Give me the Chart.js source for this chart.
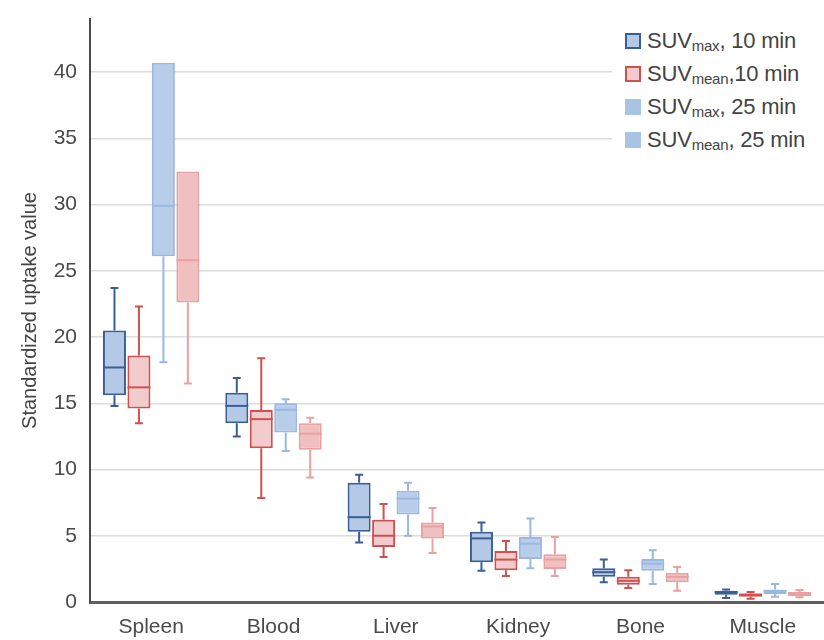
<!DOCTYPE html>
<html>
<head>
<meta charset="utf-8">
<script src="https://cdn.jsdelivr.net/npm/chart.js@4.4.1/dist/chart.umd.min.js"></script>
<style>
    body { margin: 0; background: #fff; font-family: "Liberation Sans", Arial, sans-serif; }
    .wrap { position: relative; width: 824px; height: 640px; }
    .legend { position: absolute; left: 612px; top: 24px; width: 212px; background: #fff; color: #444; }
    .legend div { height: 33px; line-height: 33px; font-size: 22px; white-space: nowrap; letter-spacing: -0.2px; }
    .legend span.sw { display: inline-block; width: 16px; height: 16px; box-sizing: border-box; margin: 0 6px 0 13px; vertical-align: -1px; }
    .legend sub { font-size: 15px; vertical-align: -3px; }
</style>
</head>
<body>
<div class="wrap">
    <canvas id="myChart" width="824" height="640"></canvas>
    <div class="legend">
        <div><span class="sw" style="background:#b4c9e6;border:2px solid #3a5f95"></span>SUV<sub>max</sub>, 10 min</div>
        <div><span class="sw" style="background:#f2cccc;border:2px solid #d05050"></span>SUV<sub>mean</sub>,10 min</div>
        <div><span class="sw" style="background:#a9c3e4"></span>SUV<sub>max</sub>, 25 min</div>
        <div><span class="sw" style="background:#a9c3e4"></span>SUV<sub>mean</sub>, 25 min</div>
    </div>
</div>
<script>
// categories + box stats per organ: [min, q1, median, q3, max]
const organs = ['Spleen', 'Blood', 'Liver', 'Kidney', 'Bone', 'Muscle'];

const suvMax10 = [[14.8, 15.6, 17.7, 20.5, 23.7], [12.5, 13.5, 14.8, 15.8, 16.9], [4.5, 5.3, 6.4, 9.0, 9.6],
    [2.35, 3.0, 4.8, 5.3, 6.0], [1.5, 1.9, 2.25, 2.55, 3.2], [0.3, 0.55, 0.75, 0.85, 0.95]];
const suvMean10 = [[13.5, 14.6, 16.2, 18.6, 22.3], [7.85, 11.6, 13.8, 14.5, 18.4], [3.4, 4.15, 5.0, 6.2, 7.4],
    [1.96, 2.4, 3.2, 3.85, 4.6], [1.05, 1.3, 1.6, 1.9, 2.4], [0.25, 0.4, 0.55, 0.65, 0.75]];
const suvMax25 = [[18.1, 26.1, 29.9, 40.7, 40.7], [11.4, 12.8, 14.5, 15.0, 15.3], [5.0, 6.6, 7.8, 8.4, 9.0],
    [2.55, 3.25, 4.4, 4.9, 6.3], [1.35, 2.35, 2.9, 3.25, 3.9], [0.4, 0.6, 0.8, 0.95, 1.35]];
const suvMean25 = [[16.5, 22.6, 25.8, 32.5, 32.5], [9.4, 11.5, 12.7, 13.5, 13.9], [3.7, 4.8, 5.7, 6.0, 7.1],
    [1.96, 2.5, 3.2, 3.6, 4.9], [0.85, 1.5, 1.9, 2.2, 2.65], [0.35, 0.45, 0.6, 0.75, 0.9]];

const yTicks = [0, 5, 10, 15, 20, 25, 30, 35, 40];

function boxSet(label, stats, fill, line, lw) {
    return {
        label: label,
        data: stats.map(s => [s[1], s[3]]),
        stats: stats,
        backgroundColor: fill,
        borderColor: line,
        borderWidth: 2,
        borderSkipped: false,
        whiskerWidth: lw,
        barPercentage: 0.94,
        categoryPercentage: 0.8
    };
}

// whiskers + medians
const boxPlugin = {
    id: 'boxPlugin',
    afterDatasetsDraw(chart) {
        const ctx = chart.ctx;
        const y = chart.scales.y;
        chart.data.datasets.forEach((ds, i) => {
            const meta = chart.getDatasetMeta(i);
            ctx.save();
            ctx.strokeStyle = ds.borderColor;
            meta.data.forEach((bar, j) => {
                const s = ds.stats[j];
                const x = bar.x;
                const half = bar.width / 2;
                ctx.lineWidth = ds.whiskerWidth;
                ctx.beginPath();
                if (s[4] > s[3]) {
                    ctx.moveTo(x, y.getPixelForValue(s[3]));
                    ctx.lineTo(x, y.getPixelForValue(s[4]));
                    ctx.moveTo(x - 4, y.getPixelForValue(s[4]));
                    ctx.lineTo(x + 4, y.getPixelForValue(s[4]));
                }
                if (s[0] < s[1]) {
                    ctx.moveTo(x, y.getPixelForValue(s[1]));
                    ctx.lineTo(x, y.getPixelForValue(s[0]));
                    ctx.moveTo(x - 4, y.getPixelForValue(s[0]));
                    ctx.lineTo(x + 4, y.getPixelForValue(s[0]));
                }
                ctx.stroke();
                ctx.lineWidth = 2;
                ctx.beginPath();
                ctx.moveTo(x - half, y.getPixelForValue(s[2]));
                ctx.lineTo(x + half, y.getPixelForValue(s[2]));
                ctx.stroke();
            });
            ctx.restore();
        });
    }
};

const fontFam = '"Liberation Sans", Arial, sans-serif';

new Chart(document.getElementById('myChart'), {
    type: 'bar',
    data: {
        labels: organs,
        datasets: [
            boxSet('SUVmax, 10 min', suvMax10, '#b4c9e6', '#3a5f95', 2),
            boxSet('SUVmean, 10 min', suvMean10, '#f2cccc', '#d05050', 2),
            boxSet('SUVmax, 25 min', suvMax25, '#b8cde9', '#9ab8e0', 2),
            boxSet('SUVmean, 25 min', suvMean25, '#f0c0c0', '#e8a0a0', 2)
        ]
    },
    options: {
        responsive: false,
        animation: false,
        layout: { padding: { top: 19, left: 0, right: 0, bottom: 0 } },
        plugins: {
            legend: { display: false },
            tooltip: { enabled: false }
        },
        scales: {
            x: {
                grid: { display: false, drawTicks: false },
                border: { color: '#5e5e5e', width: 3 },
                ticks: { color: '#4a4a4a', padding: 13, font: { family: fontFam, size: 21 } },
                afterFit: (s) => { s.height = 38; }
            },
            y: {
                min: 0,
                max: 44,
                afterBuildTicks: (s) => { s.ticks = yTicks.map(v => ({ value: v })); },
                grid: {
                    drawTicks: false,
                    color: (c) => c.tick && c.tick.value === 0 ? 'rgba(0,0,0,0)' : '#dcdcdc',
                    lineWidth: 1.5
                },
                border: { color: '#4a4a4a', width: 2 },
                ticks: { color: '#4a4a4a', padding: 13, font: { family: fontFam, size: 21 } },
                title: {
                    display: true,
                    text: 'Standardized uptake value',
                    color: '#444',
                    font: { family: fontFam, size: 20 },
                    padding: { top: 18, bottom: 0 }
                },
                afterFit: (s) => { s.width = 90; s.paddingTop = 0; s.paddingBottom = 0; }
            }
        }
    },
    plugins: [boxPlugin]
});
</script>
</body>
</html>
